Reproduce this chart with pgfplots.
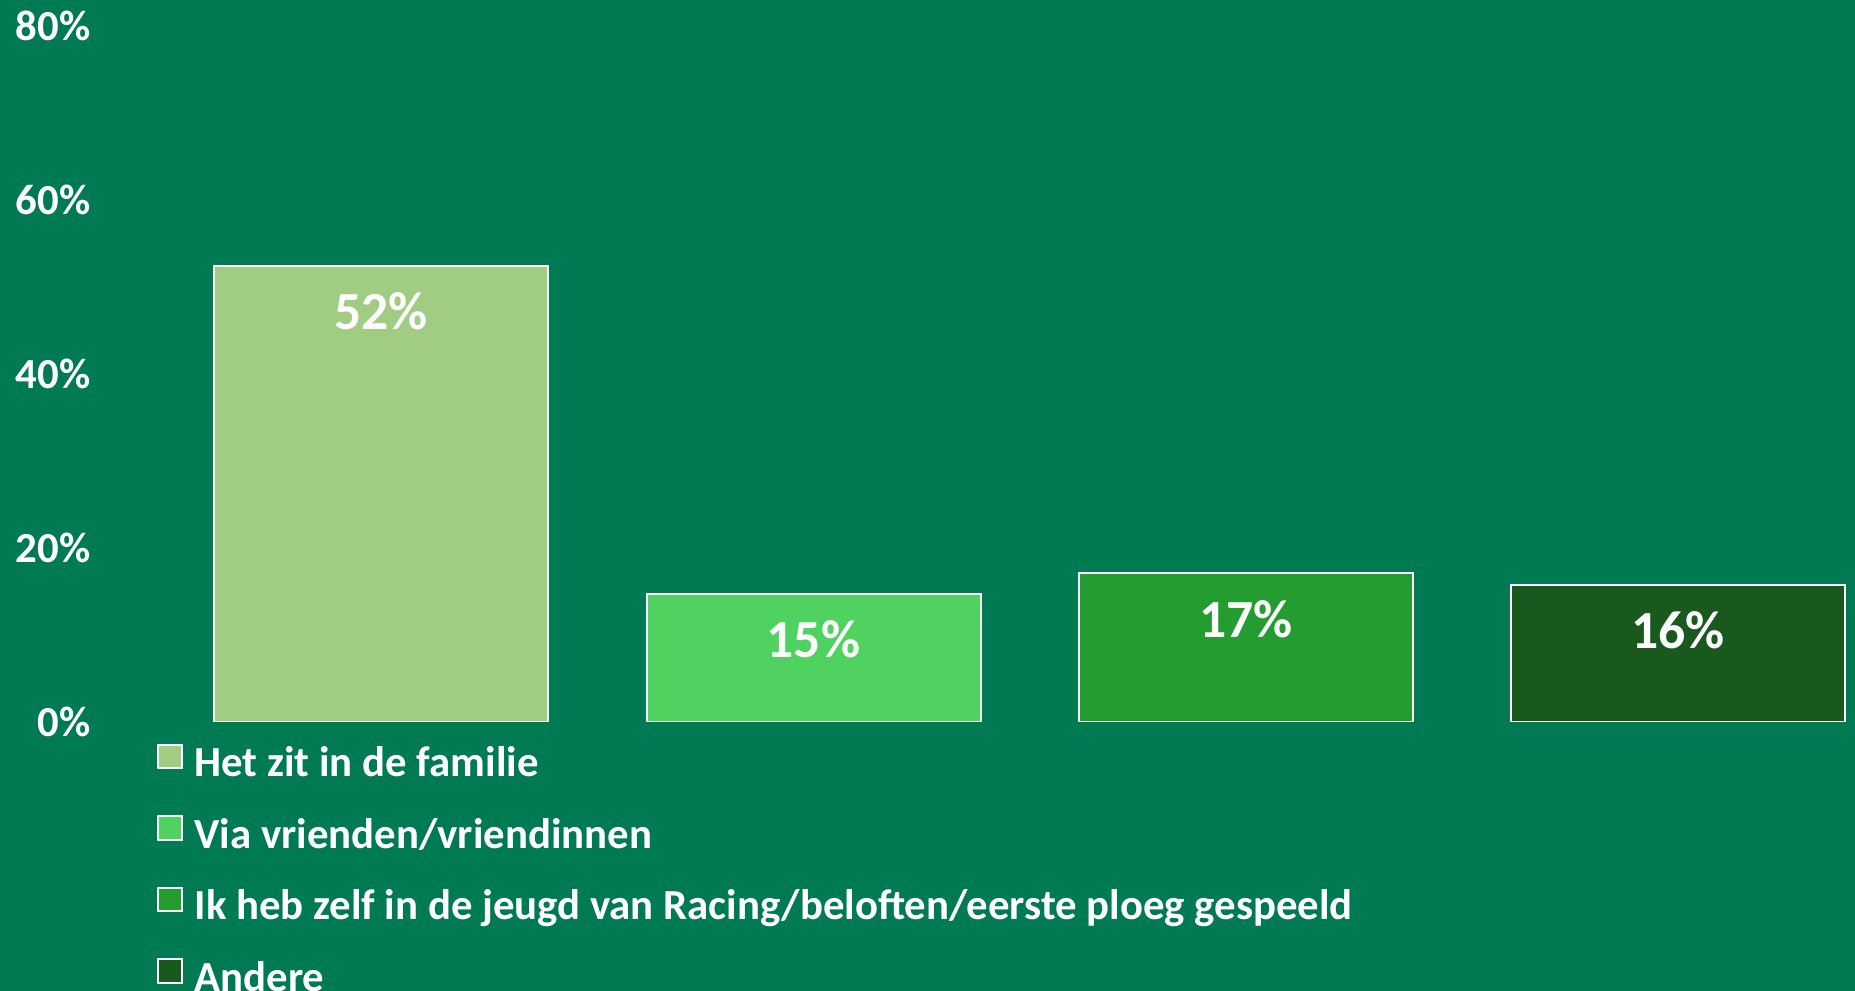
\documentclass[border=0pt]{standalone}
\usepackage{pgfplots}
\pgfplotsset{compat=1.18}
\usepackage{fontspec}
\setmainfont{Carlito}
\definecolor{bg}{RGB}{0,122,83}
\definecolor{c1}{RGB}{161,204,132}
\definecolor{c2}{RGB}{79,210,95}
\definecolor{c3}{RGB}{35,157,47}
\definecolor{c4}{RGB}{25,89,30}
\begin{document}
\begin{tikzpicture}
\fill[bg] (0,0) rectangle (463.75pt,247.75pt);
\useasboundingbox (0,0) rectangle (463.75pt,247.75pt);
\begin{axis}[
  at={(41.25pt,67.25pt)}, anchor=south west,
  scale only axis, width=422.5pt, height=174pt,
  xmin=-0.5, xmax=3.409, ymin=0, ymax=80,
  ytick={0,20,40,60,80},
  yticklabel={\pgfmathprintnumber{\tick}\%},
  /pgf/number format/assume math mode=true,
  xtick=\empty,
  axis line style={draw=none},
  tick style={draw=none},
  font=\bfseries,
  yticklabel style={font=\fontsize{10.7pt}{12pt}\selectfont\bfseries, text=white, anchor=east, inner sep=0pt, xshift=-18.5pt},
  ybar, bar width=83.5pt, bar shift=0pt,
  every axis plot/.append style={draw=white, line width=0.5pt},
  nodes near coords={\pgfmathprintnumber[fixed,precision=0]{\pgfplotspointmeta}\%},
  nodes near coords style={font=\fontsize{13.4pt}{15pt}\selectfont\bfseries, text=white, anchor=center, yshift=-11.4pt},
  legend cell align=left,
  legend style={at={(0,0)}, anchor=north west, xshift=-2pt, yshift=-5.4pt,
    draw=none, fill=none, inner sep=0pt, outer sep=0pt, row sep=7.85pt,
    font=\fontsize{10.7pt}{12pt}\selectfont\bfseries, text=white,
    nodes={inner sep=0pt, text height=7.2pt, text depth=1.8pt},
    /tikz/every odd column/.append style={column sep=3pt}},
  legend image code/.code={\draw[#1, draw=white, line width=0.5pt] (0pt,-0.6pt) rectangle (5.9pt,5.3pt);},
]
\addplot[fill=c1] coordinates {(0,52.4)};
\addlegendentry{Het zit in de familie}
\addplot[fill=c2] coordinates {(1,14.7)};
\addlegendentry{Via vrienden/vriendinnen}
\addplot[fill=c3] coordinates {(2,17.1)};
\addlegendentry{Ik heb zelf in de jeugd van Racing/beloften/eerste ploeg gespeeld}
\addplot[fill=c4] coordinates {(3,15.8)};
\addlegendentry{Andere}
\end{axis}
\end{tikzpicture}
\end{document}
